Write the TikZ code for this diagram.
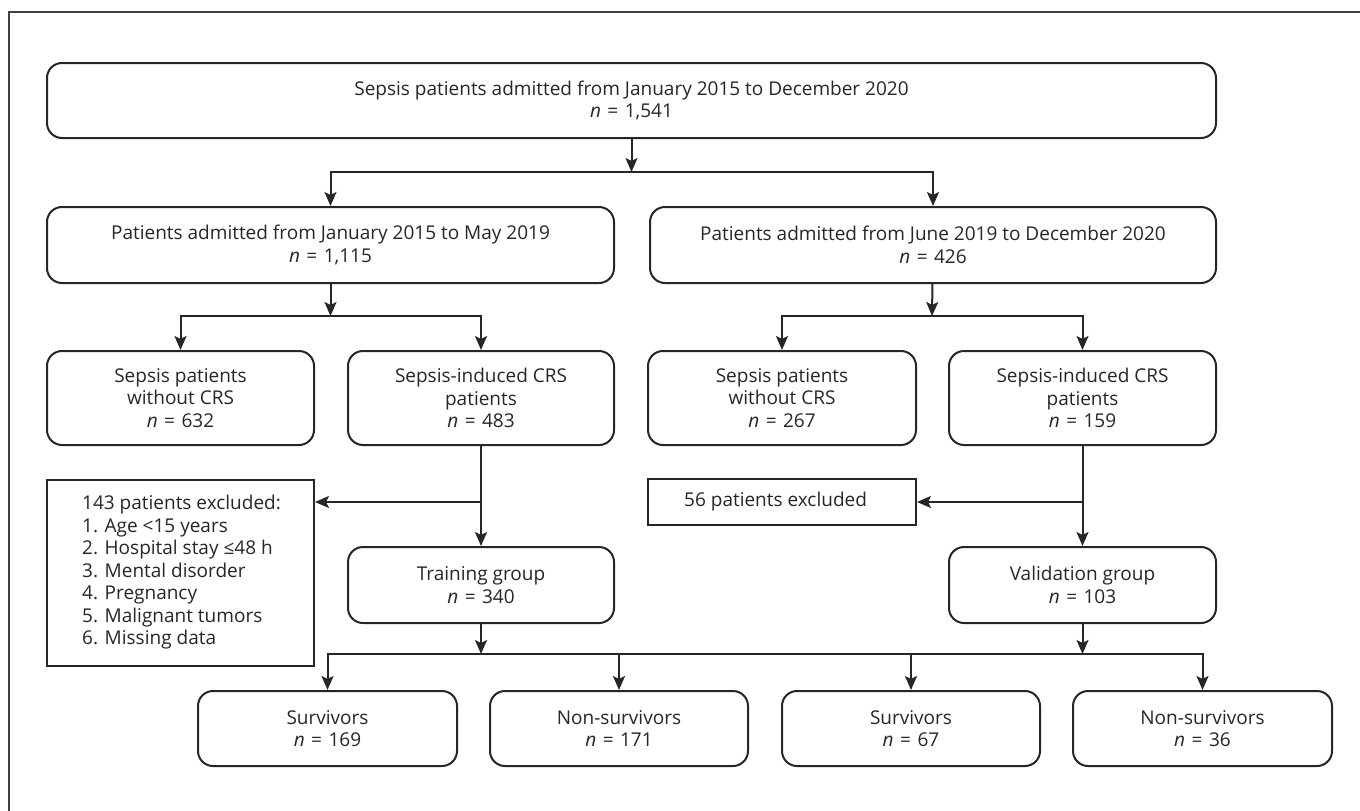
\documentclass[tikz,border=0pt]{standalone}
\usepackage{fontspec}
\setmainfont{Open Sans}
\usetikzlibrary{arrows.meta,positioning}
\newcommand{\ncount}[1]{\textit{n}\hspace{6.5pt}=\hspace{6.5pt}#1}

\begin{document}
\begin{tikzpicture}[x=1pt,y=-1pt,
    every node/.style={font=\fontsize{19}{22.5}\selectfont, text=black!85},
    box/.style={draw=black!85, line width=2pt, rounded corners=15pt,
        align=center, inner sep=0pt, minimum height=76pt},
    excl/.style={draw=black!85, line width=2pt, inner sep=0pt},
    line/.style={draw=black!85, line width=2pt},
    arr/.style={line, -{Stealth[length=14pt,width=12pt,inset=3pt]}}]
    \useasboundingbox (0,0) rectangle (1360,811);
    \draw[line width=1.4pt, black!75] (9,830) |- (1380,12);
    % patients
    \node[box, minimum width=1169pt, minimum height=75pt] (all) at (631.5,100.5)
        {Sepsis patients admitted from January 2015 to December 2020\\ \ncount{1,541}};
    \node[box, minimum width=567pt] (early) at (330.5,245)
        {Patients admitted from January 2015 to May 2019\\ \ncount{1,115}};
    \node[box, minimum width=566pt] (late) at (933,245)
        {Patients admitted from June 2019 to December 2020\\ \ncount{426}};
    \node[box, minimum width=267pt, minimum height=94pt] (nocrsA) at (180.5,398)
        {Sepsis patients\\ without CRS\\ \ncount{632}};
    \node[box, minimum width=266pt, minimum height=94pt] (crsA) at (481,398)
        {Sepsis-induced CRS\\ patients\\ \ncount{483}};
    \node[box, minimum width=268pt, minimum height=94pt] (nocrsB) at (782,398)
        {Sepsis patients\\ without CRS\\ \ncount{267}};
    \node[box, minimum width=267pt, minimum height=94pt] (crsB) at (1082.5,398)
        {Sepsis-induced CRS\\ patients\\ \ncount{159}};
    % exclusions
    \node[excl, minimum width=267pt, minimum height=186pt] (exA) at (180.5,573) {};
    \node[anchor=north west, align=left, inner sep=0pt] (exAtxt) at (82,495)
        {143 patients excluded:\\ 1. Age <15 years\\ 2. Hospital stay ≤48 h\\
         3. Mental disorder\\ 4. Pregnancy\\ 5. Malignant tumors\\ 6. Missing data};
    \node[excl, minimum width=268pt, minimum height=46pt] (exB) at (782,502) {};
    \node[anchor=west, inner sep=0pt] (exBtxt) at (684,502) {56 patients excluded};
    % groups
    \node[box, minimum width=266pt] (train) at (481,585)
        {Training group\\ \ncount{340}};
    \node[box, minimum width=267pt] (valid) at (1082.5,585)
        {Validation group\\ \ncount{103}};
    \node[box, minimum width=259pt, minimum height=75pt] (svA) at (327.5,728.5)
        {Survivors\\ \ncount{169}};
    \node[box, minimum width=258pt, minimum height=75pt] (nsA) at (619,728.5)
        {Non-survivors\\ \ncount{171}};
    \node[box, minimum width=258pt, minimum height=75pt] (svB) at (911,728.5)
        {Survivors\\ \ncount{67}};
    \node[box, minimum width=259pt, minimum height=75pt] (nsB) at (1202.5,728.5)
        {Non-survivors\\ \ncount{36}};
    % junctions
    \coordinate (j1) at (631.5,172);
    \coordinate (j2) at (330.5,316);
    \coordinate (j3) at (932,316);
    \coordinate (b1) at (481,502);
    \coordinate (j4) at (481,654);
    \coordinate (j5) at (1082.5,654);
    \draw[arr] (all) -- (j1);
    \draw[arr] (j1) -| (early);
    \draw[arr] (j1) -| (late);
    \draw[arr] (early) -- (j2);
    \draw[arr] (j2) -| (nocrsA);
    \draw[arr] (j2) -| (crsA);
    \draw[arr] (late) -- (j3);
    \draw[arr] (j3) -| (nocrsB);
    \draw[arr] (j3) -| (crsB);
    \draw[arr] (crsA) -- (train);
    \draw[arr] (b1) -- (b1 -| exA.east);
    \draw[arr] (crsB) -- (valid);
    \draw[arr] (crsB |- exB) -- (exB);
    \draw[arr] (train) -- (j4);
    \draw[arr] (valid) -- (j5);
    \draw[line] (j4) -- (j5);
    \draw[arr] (j4) -| (svA);
    \draw[arr] (j4) -| (nsA);
    \draw[arr] (j5) -| (svB);
    \draw[arr] (j5) -| (nsB);
\end{tikzpicture}
\end{document}
